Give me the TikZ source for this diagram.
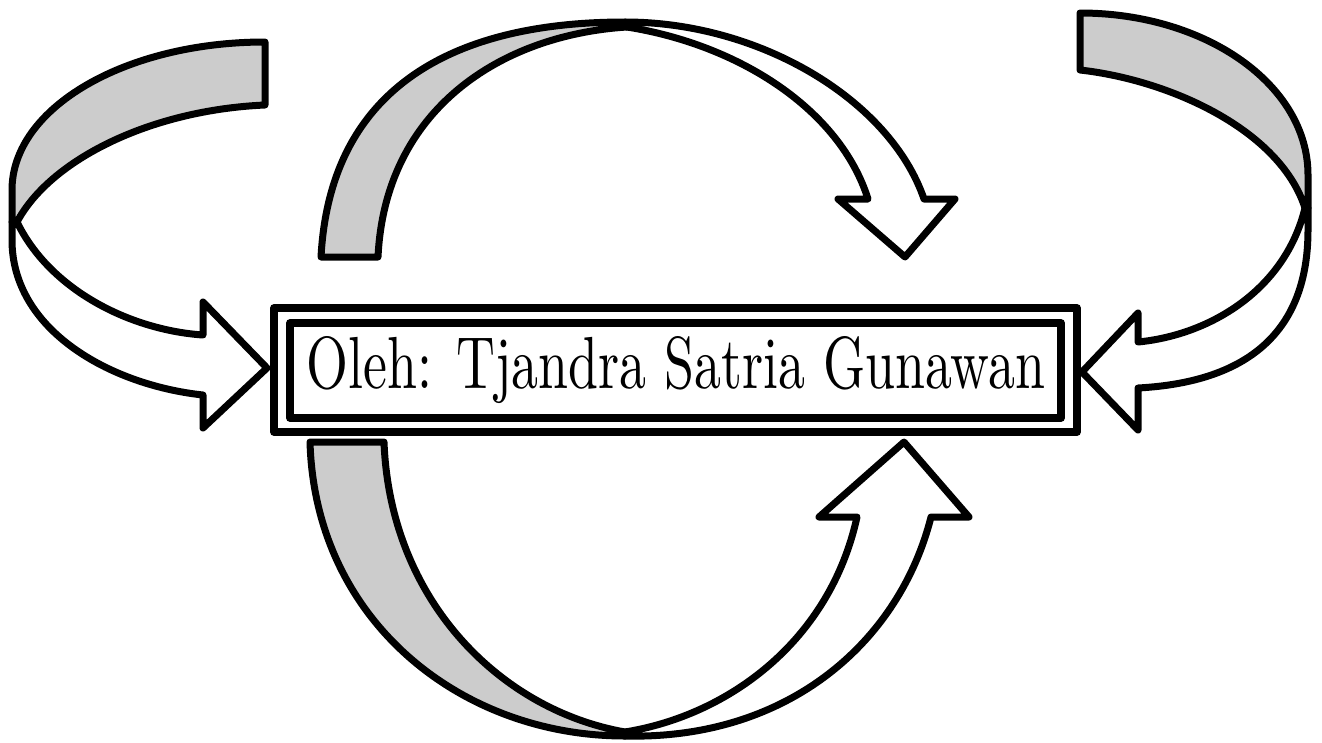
\documentclass[tikz,border=0pt]{standalone}
\usepackage{graphicx}
\definecolor{bandgray}{HTML}{CCCCCC}
\begin{document}
\begin{tikzpicture}[x=1pt,y=-1pt,
  ribbon/.style={draw=black,line width=7pt,line join=round,line cap=round},
  grayband/.style={ribbon,fill=bandgray},
  whiteband/.style={ribbon,fill=white},
  frame/.style={draw=black,line width=7.5pt,line join=round,inner sep=0pt}]
\useasboundingbox (0,0) rectangle (1322,742);
% left arrow
\draw[grayband] (265,42) -- (265,105) .. controls (150,110) and (50,160) .. (17,222) -- (12,222) -- (12,190) .. controls (12,108) and (125,42) .. (265,42) -- cycle;
\draw[whiteband] (17,222) .. controls (50,290) and (130,330) .. (203,335) -- (203,302) -- (267,368) -- (203,428) -- (203,395) .. controls (110,385) and (12,330) .. (12,240) -- (12,222) -- cycle;
% right arrow
\draw[grayband] (1080,13) -- (1080,70) .. controls (1170,80) and (1280,130) .. (1305,208) -- (1308,208) -- (1308,175) .. controls (1308,85) and (1206,13) .. (1080,13) -- cycle;
\draw[whiteband] (1305,208) .. controls (1285,290) and (1210,335) .. (1138,342) -- (1138,313) -- (1082,372) -- (1138,430) -- (1138,388) .. controls (1250,382) and (1308,330) .. (1308,230) -- (1308,208) -- cycle;
% top arrow
\draw[grayband] (321,257) -- (378,257) .. controls (385,110) and (500,35) .. (627,27) -- (625,22) .. controls (450,22) and (330,90) .. (321,257) -- cycle;
\draw[whiteband] (627,27) .. controls (740,45) and (840,110) .. (868,199) -- (838,199) -- (905,257) -- (955,199) -- (924,199) .. controls (890,100) and (760,22) .. (625,22) -- cycle;
% bottom arrow
\draw[grayband] (310,442) -- (384,442) .. controls (390,600) and (500,710) .. (625,732) -- (625,736) .. controls (460,736) and (315,620) .. (310,442) -- cycle;
\draw[whiteband] (625,732) .. controls (730,715) and (830,640) .. (857,517) -- (819,517) -- (904,442) -- (969,517) -- (931,517) .. controls (900,640) and (790,740) .. (625,736) -- cycle;
% box
\node[frame, minimum width=803pt, minimum height=124pt] (outer) at (675.5,370) {};
\node[frame, minimum width=771pt, minimum height=95pt] (inner) at (675.5,370.5) {};
\node[anchor=base, inner sep=0pt] (label) at (676,388) {\resizebox{738pt}{52pt}{Oleh: Tjandra Satria Gunawan}};
\end{tikzpicture}
\end{document}
